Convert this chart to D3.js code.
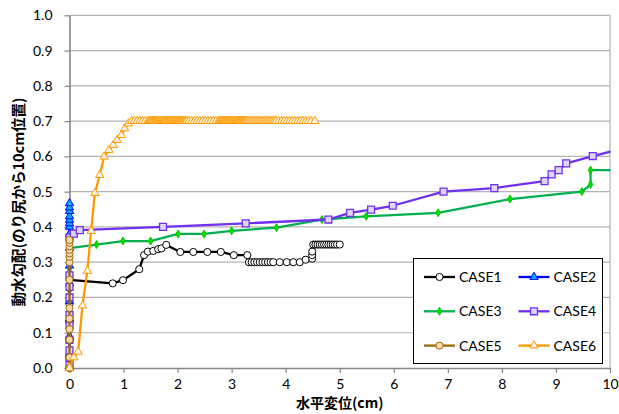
<!DOCTYPE html>
<html>
<head>
<meta charset="utf-8">
<script src="https://cdn.jsdelivr.net/npm/d3@7"></script>
<style>
  html, body { margin: 0; padding: 0; background: #fff; }
  svg { display: block; }
</style>
</head>
<body>
<svg id="chart" width="619" height="414"></svg>
<script>
// ---- data -------------------------------------------------------------
const seriesNames = ["CASE1", "CASE2", "CASE3", "CASE4", "CASE5", "CASE6"];
const xTickValues = [0, 1, 2, 3, 4, 5, 6, 7, 8, 9, 10];
const yTickValues = [0, 0.1, 0.2, 0.3, 0.4, 0.5, 0.6, 0.7, 0.8, 0.9, 1.0];

// 水平変位 (cm) / 動水勾配
const case1X = [0, 0, 0, 0, 0, 0, 0.80, 0.99, 1.29, 1.38, 1.45, 1.55, 1.64, 1.70, 1.79,
  2.05, 2.29, 2.55, 2.80, 3.04, 3.29, 3.32, 3.37, 3.42, 3.47, 3.52, 3.57, 3.62, 3.67,
  3.72, 3.77, 3.89, 4.02, 4.14, 4.26, 4.37, 4.49, 4.49, 4.49, 4.51, 4.55, 4.59, 4.63,
  4.67, 4.71, 4.75, 4.79, 4.83, 4.87, 4.91, 4.95, 5.00];
const case1Y = [0, 0.03, 0.08, 0.13, 0.18, 0.25, 0.24, 0.249, 0.28, 0.32, 0.33, 0.332, 0.337, 0.339, 0.349,
  0.329, 0.329, 0.329, 0.329, 0.32, 0.32, 0.30, 0.30, 0.30, 0.30, 0.30, 0.30, 0.30, 0.30,
  0.30, 0.30, 0.30, 0.30, 0.30, 0.30, 0.307, 0.31, 0.32, 0.33, 0.35, 0.35, 0.35, 0.35,
  0.35, 0.35, 0.35, 0.35, 0.35, 0.35, 0.35, 0.35, 0.35];

const case2X = [0, 0, 0, 0, 0, 0, 0, 0, 0, 0, 0, 0, 0, 0, 0, 0];
const case2Y = [0, 0.04, 0.09, 0.14, 0.19, 0.24, 0.29, 0.34, 0.38, 0.40, 0.41, 0.42, 0.43, 0.445, 0.455, 0.467];

const case3X = [0, 0, 0, 0, 0, 0, 0, 0.50, 0.99, 1.50, 2.01, 2.49, 3.00, 3.83, 4.67,
  5.49, 6.82, 8.15, 9.48, 9.64, 9.64, 10.3];
const case3Y = [0, 0.04, 0.10, 0.16, 0.22, 0.28, 0.34, 0.35, 0.36, 0.36, 0.38, 0.38, 0.389, 0.398, 0.421,
  0.43, 0.44, 0.479, 0.50, 0.52, 0.561, 0.561];

const case4X = [0, 0, 0, 0, 0, 0, 0, 0, 0, 0, 0.08, 0.19, 1.73, 3.26, 4.79, 5.19, 5.58,
  5.98, 6.92, 7.86, 8.79, 8.92, 9.05, 9.19, 9.68, 10.4];
const case4Y = [0.008, 0.03, 0.05, 0.08, 0.12, 0.15, 0.20, 0.23, 0.263, 0.37, 0.381, 0.391, 0.40, 0.41, 0.421, 0.44, 0.449,
  0.46, 0.50, 0.51, 0.53, 0.549, 0.561, 0.58, 0.601, 0.628];

const case5X = [0, 0, 0, 0, 0, 0, 0, 0, 0, 0, 0, 0, 0, 0];
const case5Y = [0, 0.03, 0.08, 0.11, 0.14, 0.17, 0.25, 0.30, 0.315, 0.325, 0.335, 0.345, 0.355, 0.363];

const case6RiseX = [0, 0.08, 0.16, 0.24, 0.33, 0.40, 0.47, 0.56, 0.64, 0.73, 0.81, 0.88, 0.96, 1.02, 1.09];
const case6RiseY = [0, 0.03, 0.046, 0.177, 0.275, 0.388, 0.496, 0.547, 0.599, 0.618, 0.632, 0.646, 0.66, 0.679, 0.693];
// readings taken once the gradient levels off
const case6PlateauLevel = 0.70;
const case6PlateauX = [1.15, 1.20, 1.25, 1.30, 1.35, 1.40, 1.45,
  1.47, 1.49, 1.51, 1.53, 1.55, 1.57, 1.59, 1.61, 1.63, 1.65, 1.67, 1.69, 1.71, 1.73,
  1.75, 1.77, 1.79, 1.81, 1.83, 1.85, 1.87, 1.89, 1.91, 1.93, 1.95, 1.97, 1.99, 2.01,
  2.03, 2.05, 2.07, 2.09, 2.11, 2.13, 2.15, 2.17,
  2.21, 2.26, 2.31, 2.36, 2.41, 2.46, 2.51, 2.56, 2.61, 2.66, 2.71, 2.76,
  2.78, 2.80, 2.82, 2.84, 2.86, 2.88, 2.90, 2.92, 2.94, 2.96, 2.98, 3.00, 3.02, 3.04,
  3.06, 3.08, 3.10, 3.12, 3.14, 3.16, 3.18, 3.20, 3.22, 3.24, 3.26, 3.28,
  3.31, 3.34, 3.37, 3.40, 3.43, 3.46, 3.49, 3.52, 3.55, 3.58, 3.61, 3.64, 3.67, 3.70,
  3.73, 3.76, 3.79, 3.82,
  3.87, 3.92, 3.97, 4.02, 4.07, 4.12, 4.17, 4.22, 4.27, 4.32, 4.37, 4.42, 4.47, 4.54];

// ---- layout -----------------------------------------------------------
const plot = { left: 69.5, right: 610, top: 15.3, bottom: 368 };
const svg = d3.select("#chart");
const x = d3.scaleLinear().domain([0, 10]).range([plot.left, plot.right]);
const y = d3.scaleLinear().domain([0, 1]).range([plot.bottom, plot.top]);

const tickFont = "Lato, 'Open Sans', sans-serif";

// horizontal gridlines
svg.append("g").selectAll("line")
  .data(yTickValues.slice(1))
  .join("line")
  .attr("x1", plot.left).attr("x2", plot.right)
  .attr("y1", d => y(d)).attr("y2", d => y(d))
  .attr("stroke", "#b3b3b3").attr("stroke-width", 1.2);

// right border of the plot area
svg.append("line")
  .attr("x1", plot.right).attr("x2", plot.right)
  .attr("y1", plot.top).attr("y2", plot.bottom)
  .attr("stroke", "#b3b3b3").attr("stroke-width", 1.2);

// axes
const xAxis = d3.axisBottom(x).tickValues(xTickValues).tickFormat(d3.format("d"))
  .tickSizeInner(5).tickSizeOuter(0).tickPadding(6);
const yAxis = d3.axisLeft(y).tickValues(yTickValues).tickFormat(d3.format(".1f"))
  .tickSizeInner(5).tickSizeOuter(0).tickPadding(12);

function styleAxis(g) {
  g.select(".domain").attr("stroke", "#878787").attr("stroke-width", 1.6);
  g.selectAll(".tick line").attr("stroke", "#878787").attr("stroke-width", 1.2);
  g.selectAll(".tick text").attr("fill", "#000")
    .style("font-family", tickFont).style("font-size", "14px");
}
svg.append("g").attr("transform", `translate(0,${plot.bottom})`).call(xAxis).call(styleAxis);
svg.append("g").attr("transform", `translate(${plot.left},0)`).call(yAxis).call(styleAxis);

// axis titles
svg.append("text")
  .attr("x", (plot.left + plot.right) / 2).attr("y", 408)
  .attr("text-anchor", "middle")
  .style("font-family", "'Noto Sans CJK JP', sans-serif")
  .style("font-weight", "bold").style("font-size", "14px")
  .text("水平変位(cm)");

svg.append("text")
  .attr("transform", `translate(24,202) rotate(-90)`)
  .attr("text-anchor", "middle")
  .style("font-family", "'Noto Sans CJK JP', sans-serif")
  .style("font-weight", "bold").style("font-size", "14.5px")
  .text("動水勾配(のり尻から10cm位置)");

// ---- series -----------------------------------------------------------
const zip = (xs, ys) => xs.map((v, i) => [v, ys[i]]);
const case6Points = zip(case6RiseX, case6RiseY)
  .concat(case6PlateauX.map(v => [v, case6PlateauLevel]));

const series = [
  { name: seriesNames[0], points: zip(case1X, case1Y), line: "#000000",
    symbol: d3.symbolCircle, size: 40, fill: "#ffffff", stroke: "#000000", sw: 1 },
  { name: seriesNames[1], points: zip(case2X, case2Y), line: "#0000ff",
    symbol: d3.symbolTriangle, size: 30, fill: "#00b0f0", stroke: "#0000ff", sw: 1 },
  { name: seriesNames[2], points: zip(case3X, case3Y), line: "#00b050",
    symbol: d3.symbolDiamond, size: 18, fill: "#00e000", stroke: "#00c400", sw: 1 },
  { name: seriesNames[3], points: zip(case4X, case4Y), line: "#7030f0",
    symbol: d3.symbolSquare, size: 48, fill: "#ddd5f7", stroke: "#7030f0", sw: 1.3 },
  { name: seriesNames[4], points: zip(case5X, case5Y), line: "#9c6a06",
    symbol: d3.symbolCircle, size: 40, fill: "#f3d9ad", stroke: "#a06a10", sw: 1 },
  { name: seriesNames[5], points: case6Points, line: "#ff9900",
    symbol: d3.symbolTriangle, size: 30, fill: "#fff6e3", stroke: "#ff9900", sw: 1 }
];

// clip everything that runs past x = 10
svg.append("defs").append("clipPath").attr("id", "plot-clip")
  .append("rect").attr("x", 0).attr("y", 0)
  .attr("width", plot.right + 0.5).attr("height", 414);

const marks = svg.append("g").attr("clip-path", "url(#plot-clip)");
const lineGen = d3.line().x(d => x(d[0])).y(d => y(d[1]));

series.forEach(s => {
  const g = marks.append("g");
  g.append("path")
    .attr("d", lineGen(s.points))
    .attr("fill", "none")
    .attr("stroke", s.line).attr("stroke-width", 2.3)
    .attr("stroke-linejoin", "round");
  const sym = d3.symbol().type(s.symbol).size(s.size);
  g.selectAll("path.m").data(s.points).join("path")
    .attr("class", "m")
    .attr("d", sym)
    .attr("transform", d => `translate(${x(d[0])},${y(d[1])})`)
    .attr("fill", s.fill).attr("stroke", s.stroke).attr("stroke-width", s.sw);
});

// ---- legend -----------------------------------------------------------
const legend = svg.append("g");
legend.append("rect")
  .attr("x", 413.5).attr("y", 258.5).attr("width", 189).attr("height", 105)
  .attr("fill", "#fff").attr("stroke", "#000").attr("stroke-width", 1);

series.forEach((s, i) => {
  const col = i % 2, row = Math.floor(i / 2);
  const lx = 424 + col * 94.5, ly = 277 + row * 34.3;
  const item = legend.append("g");
  item.append("line")
    .attr("x1", lx).attr("x2", lx + 31).attr("y1", ly).attr("y2", ly)
    .attr("stroke", s.line).attr("stroke-width", 2.3);
  item.append("path")
    .attr("d", d3.symbol().type(s.symbol).size(s.size)())
    .attr("transform", `translate(${lx + 15.5},${ly})`)
    .attr("fill", s.fill).attr("stroke", s.stroke).attr("stroke-width", s.sw);
  item.append("text")
    .attr("x", lx + 35).attr("y", ly).attr("dy", "0.35em")
    .style("font-family", tickFont).style("font-size", "14px")
    .text(s.name);
});
</script>
</body>
</html>
